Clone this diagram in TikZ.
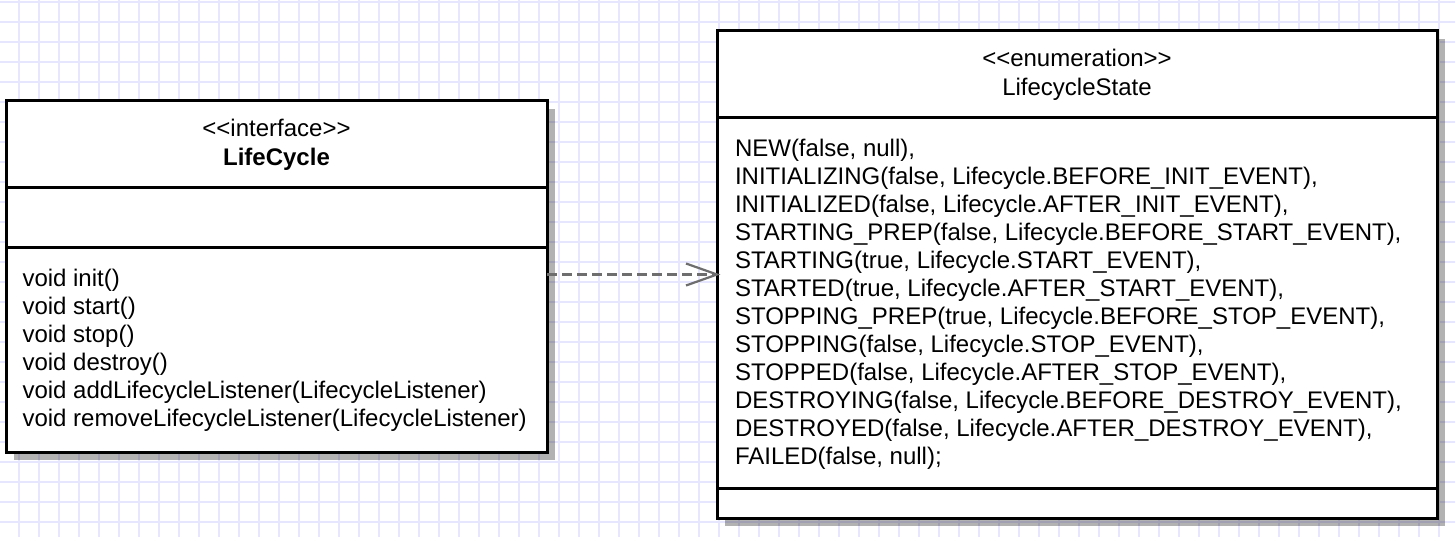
\documentclass[tikz,border=0pt]{standalone}
\usepackage{fontspec}
\newfontfamily\umlfont{Liberation Sans}
\usetikzlibrary{calc}
\definecolor{gridc}{HTML}{E6E6FF}
\definecolor{depc}{HTML}{6E6E6E}
\begin{document}
\begin{tikzpicture}[x=1pt,y=-1pt,
  every node/.style={font=\umlfont\fontsize{24}{28}\selectfont, inner sep=0pt, outer sep=0pt},
  box/.style={draw=black, line width=3pt, fill=white, anchor=north west},
  boxshadow/.style={fill=black, fill opacity=0.3, draw=none, anchor=north west},
  sepline/.style={line width=3pt, draw=black},
  dep/.style={draw=depc, line width=2.5pt, dash pattern=on 10pt off 5pt},
  deptip/.style={draw=depc, line width=2.2pt},
  gridline/.style={draw=gridc, line width=1.4pt},
  txt/.style={anchor=base west},
  ttl/.style={anchor=base}
]
\fill[white] (0,0) rectangle (1455,537);
\useasboundingbox (0,0) rectangle (1455,537);
% grid
\foreach \x in {19,39,...,1455} \draw[gridline] (\x,0) -- (\x,537);
\foreach \y in {2,22,...,537} \draw[gridline] (0,\y) -- (1455,\y);

% LifeCycle interface
\node[boxshadow, minimum width=541, minimum height=351] (lcs) at (14,109) {};
\node[box, minimum width=541, minimum height=351] (lc) at (6,101) {};
\draw[sepline] (6,188) -- (547,188);
\draw[sepline] (6,248) -- (547,248);
\node[ttl] (lct1) at (276.5,137) {<<interface>>};
\node[ttl] (lct2) at (276.5,165.7) {\bfseries LifeCycle};
\foreach \t [count=\i] in {void init(), void start(), void stop(), void destroy(),
  void addLifecycleListener(LifecycleListener), void removeLifecycleListener(LifecycleListener)}
  \node[txt] (m\i) at (22.5,{286+28*(\i-1)}) {\t};

% LifecycleState enumeration
\node[boxshadow, minimum width=720, minimum height=487] (lss) at (725,39) {};
\node[box, minimum width=720, minimum height=487] (ls) at (717,31) {};
\draw[sepline] (717,118) -- (1437,118);
\draw[sepline] (717,488) -- (1437,488);
\node[ttl] (lst1) at (1077,66.7) {<<enumeration>>};
\node[ttl] (lst2) at (1077,95.7) {LifecycleState};
\foreach \t [count=\i] in {
  {NEW(false, null),},
  {INITIALIZING(false, Lifecycle.BEFORE\_INIT\_EVENT),},
  {INITIALIZED(false, Lifecycle.AFTER\_INIT\_EVENT),},
  {STARTING\_PREP(false, Lifecycle.BEFORE\_START\_EVENT),},
  {STARTING(true, Lifecycle.START\_EVENT),},
  {STARTED(true, Lifecycle.AFTER\_START\_EVENT),},
  {STOPPING\_PREP(true, Lifecycle.BEFORE\_STOP\_EVENT),},
  {STOPPING(false, Lifecycle.STOP\_EVENT),},
  {STOPPED(false, Lifecycle.AFTER\_STOP\_EVENT),},
  {DESTROYING(false, Lifecycle.BEFORE\_DESTROY\_EVENT),},
  {DESTROYED(false, Lifecycle.AFTER\_DESTROY\_EVENT),},
  {FAILED(false, null);}}
  \node[txt] (e\i) at (735,{156.7+28*(\i-1)}) {\t};

% dependency
\draw[dep] (lc.east |- ls.west) -- (ls.west);
\draw[deptip] ($(ls.west)+(-31,-11)$) -- (ls.west) -- ($(ls.west)+(-31,11)$);
\end{tikzpicture}
\end{document}
